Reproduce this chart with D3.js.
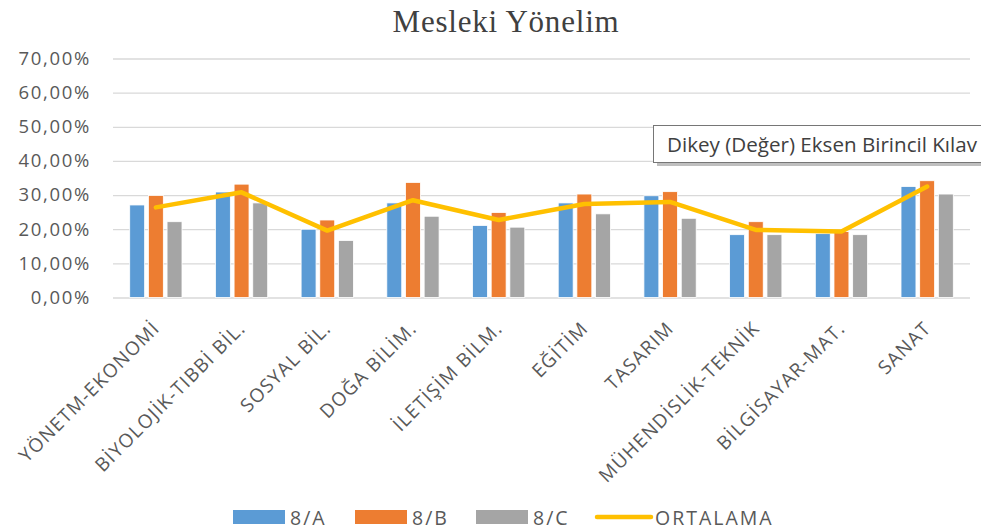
<!DOCTYPE html>
<html>
<head>
<meta charset="utf-8">
<script src="https://cdn.jsdelivr.net/npm/d3@7"></script>
<style>
  html, body { margin: 0; padding: 0; background: #fff; }
  svg { display: block; }
</style>
</head>
<body>
<div id="chart"></div>
<script>
const categories = ["YÖNETM-EKONOMİ", "BİYOLOJİK-TIBBİ BİL.", "SOSYAL BİL.", "DOĞA BİLİM.", "İLETİŞİM BİLM.",
  "EĞİTİM", "TASARIM", "MÜHENDİSLİK-TEKNİK", "BİLGİSAYAR-MAT.", "SANAT"];
const classA = [0.271, 0.309, 0.200, 0.277, 0.211, 0.277, 0.298, 0.184, 0.187, 0.325];
const classB = [0.299, 0.332, 0.227, 0.337, 0.249, 0.303, 0.310, 0.222, 0.193, 0.342];
const classC = [0.222, 0.277, 0.167, 0.238, 0.206, 0.245, 0.232, 0.184, 0.184, 0.303];
const average = [0.264, 0.308, 0.196, 0.285, 0.227, 0.274, 0.280, 0.198, 0.193, 0.325];
const yTicks = [0, 0.1, 0.2, 0.3, 0.4, 0.5, 0.6, 0.7];
const seriesNames = ["8/A", "8/B", "8/C"];
const lineName = "ORTALAMA";

const width = 981, height = 532;
const marginLeft = 113, marginRight = 11, marginTop = 58, plotBottom = 297.5;
const colors = ["#5B9BD5", "#ED7D31", "#A5A5A5"];
const lineColor = "#FFC000";
const font = "'Open Sans', sans-serif";

const rows = categories.map((c, i) => ({cat: c, vals: [classA[i], classB[i], classC[i]], avg: average[i]}));

const svg = d3.select("#chart").append("svg")
  .attr("width", width).attr("height", height)
  .attr("viewBox", [0, 0, width, height]);

const x = d3.scaleBand().domain(categories).range([marginLeft, width - marginRight]).paddingInner(0).paddingOuter(0);
const x1 = d3.scaleBand().domain([0, 1, 2]).range([x.bandwidth() * 0.195, x.bandwidth() * 0.805]).paddingInner(0.2);
const y = d3.scaleLinear().domain([0, 0.7]).range([plotBottom, marginTop + 0.5]);

// title
svg.append("text")
  .attr("x", 506).attr("y", 32)
  .attr("text-anchor", "middle")
  .attr("font-family", "'Liberation Serif', serif")
  .attr("font-size", 31)
  .attr("letter-spacing", 0.8)
  .attr("fill", "#404040")
  .text("Mesleki Yönelim");

// gridlines + y labels
svg.append("g")
  .attr("transform", `translate(${marginLeft},0)`)
  .call(d3.axisLeft(y).tickValues(yTicks).tickSize(-(width - marginLeft - marginRight))
    .tickFormat(d => d3.format(".2f")(d * 100).replace(".", ",") + "%"))
  .call(g => g.select(".domain").remove())
  .call(g => g.selectAll(".tick line").attr("stroke", "#D9D9D9").attr("stroke-width", 1.3))
  .call(g => g.selectAll(".tick text")
    .attr("x", -22)
    .attr("font-family", font).attr("font-size", 18.5).attr("letter-spacing", 1.7)
    .attr("fill", "#595959"));

// bars
svg.append("g")
  .selectAll("g")
  .data(rows)
  .join("g")
  .attr("transform", d => `translate(${x(d.cat)},0)`)
  .selectAll("rect")
  .data(d => d.vals.map((v, k) => ({k, v})))
  .join("rect")
  .attr("x", d => x1(d.k))
  .attr("width", x1.bandwidth())
  .attr("y", d => y(d.v))
  .attr("height", d => y(0) - y(d.v))
  .attr("fill", d => colors[d.k])
  .attr("stroke", "#fff")
  .attr("stroke-width", 0.8);

// average line
const line = d3.line()
  .x(d => x(d.cat) + x.bandwidth() / 2)
  .y(d => y(d.avg));

svg.append("path")
  .datum(rows)
  .attr("fill", "none")
  .attr("stroke", lineColor)
  .attr("stroke-width", 4.5)
  .attr("stroke-linejoin", "round")
  .attr("stroke-linecap", "round")
  .attr("d", line);

// x labels
svg.append("g")
  .selectAll("text")
  .data(categories)
  .join("text")
  .attr("transform", d => `translate(${x(d) + x.bandwidth() / 2 + 5},${plotBottom + 32}) rotate(-45)`)
  .attr("text-anchor", "end")
  .attr("font-family", font)
  .attr("font-size", 19)
  .attr("letter-spacing", 1.2)
  .attr("fill", "#595959")
  .text(d => d);

// legend
const legendItems = [
  {name: seriesNames[0], type: "rect", color: colors[0], x: 233, tx: 290},
  {name: seriesNames[1], type: "rect", color: colors[1], x: 355, tx: 412},
  {name: seriesNames[2], type: "rect", color: colors[2], x: 476, tx: 533},
  {name: lineName, type: "line", color: lineColor, x: 595, tx: 655}
];
const lg = svg.append("g").selectAll("g").data(legendItems).join("g");
lg.filter(d => d.type === "rect").append("rect")
  .attr("x", d => d.x).attr("y", 510).attr("width", 52).attr("height", 14)
  .attr("fill", d => d.color);
lg.filter(d => d.type === "line").append("line")
  .attr("x1", d => d.x + 2).attr("x2", d => d.x + 56).attr("y1", 517).attr("y2", 517)
  .attr("stroke", d => d.color).attr("stroke-width", 4.5).attr("stroke-linecap", "round");
lg.append("text")
  .attr("x", d => d.tx).attr("y", 524.5)
  .attr("font-family", font).attr("font-size", 19.5).attr("letter-spacing", 2)
  .attr("fill", "#595959")
  .text(d => d.name);

// tooltip (box runs past the right edge, as in the source screenshot)
const tip = svg.append("g");
tip.append("rect")
  .attr("x", 657).attr("y", 129).attr("width", 340).attr("height", 37)
  .attr("fill", "#7f7f7f").attr("opacity", 0.5);
tip.append("rect")
  .attr("x", 653.5).attr("y", 125.5).attr("width", 340).attr("height", 37)
  .attr("fill", "#fff").attr("stroke", "#767676");
tip.append("text")
  .attr("x", 667).attr("y", 152)
  .attr("font-family", font).attr("font-size", 20).attr("fill", "#404040")
  .attr("textLength", 310).attr("lengthAdjust", "spacingAndGlyphs")
  .text("Dikey (Değer) Eksen Birincil Kılav");
</script>
</body>
</html>
